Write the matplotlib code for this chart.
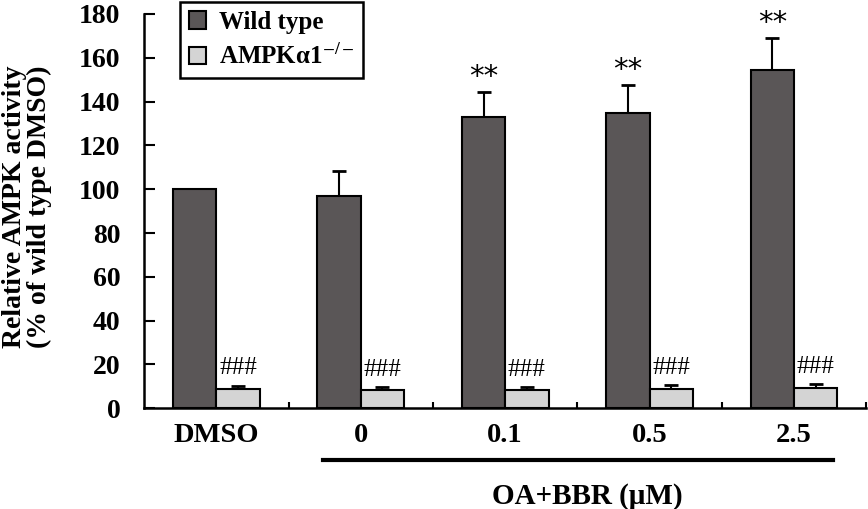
import numpy as np
import matplotlib
matplotlib.use('Agg')
import matplotlib.pyplot as plt
from matplotlib.patches import Patch

plt.rcParams['font.family'] = ['Liberation Serif', 'DejaVu Serif']
plt.rcParams['mathtext.fontset'] = 'stix'

groups = ['DMSO', '0', '0.1', '0.5', '2.5']
wild = [100, 96.9, 133.0, 135.0, 154.3]
wild_err = [0, 11.2, 11.2, 12.5, 14.6]
ko = [8.8, 8.2, 8.5, 9.0, 9.4]
ko_err = [1.4, 1.4, 1.0, 1.5, 1.6]
wild_marks = ['', '', '**', '**', '**']
ko_marks = ['###', '###', '###', '###', '###']

dark = '#5a5657'
light = '#d4d4d4'

fig = plt.figure(figsize=(8.68, 5.09), dpi=100)
ax = fig.add_axes([0.166, 0.198, 0.832, 0.7745])

x = np.arange(len(groups))
w = 0.3
ax.bar(x - w/2, wild, w, color=dark, edgecolor='black', linewidth=1.5, zorder=2)
ax.bar(x + w/2, ko, w, color=light, edgecolor='black', linewidth=1.5, zorder=2)
ax.errorbar(x - w/2, wild, yerr=[np.zeros(len(x)), wild_err], fmt='none',
            ecolor='black', elinewidth=1.5, capsize=5, capthick=2, zorder=1)
ax.errorbar(x + w/2, ko, yerr=[np.zeros(len(x)), ko_err], fmt='none',
            ecolor='black', elinewidth=1.5, capsize=5, capthick=2, zorder=1)

for i in range(len(x)):
    if wild_marks[i]:
        ax.text(x[i] - w/2, wild[i] + wild_err[i] + 0.5, wild_marks[i],
                ha='center', va='bottom', fontsize=21, family='DejaVu Sans')
    ax.text(x[i] + w/2, ko[i] + ko_err[i] + 3.0, ko_marks[i],
            ha='center', va='bottom', fontsize=18)

ax.set_xlim(-0.5, 4.5)
ax.set_ylim(0, 180)
ax.set_yticks(np.arange(0, 181, 20))
ax.set_xticks(x)
ax.set_xticklabels(groups, fontweight='bold', fontsize=20.5)
ax.set_xticks(x + 0.5, minor=True)
ax.tick_params(axis='x', which='major', length=0, pad=11)
ax.tick_params(axis='x', which='minor', direction='in', length=4, width=1.5)
ax.tick_params(axis='y', direction='in', length=8, width=1.5, pad=17, labelsize=20)
for lab in ax.get_yticklabels():
    lab.set_fontweight('bold')

for s in ['top', 'right']:
    ax.spines[s].set_visible(False)
for s in ['left', 'bottom']:
    ax.spines[s].set_linewidth(1.8)

ax.set_ylabel('Relative AMPK activity\n(% of wild type DMSO)', fontsize=20,
              fontweight='bold', linespacing=0.95)
ax.yaxis.set_label_coords(-0.128, 0.51)

trans = ax.get_xaxis_transform()
ax.plot([0.74, 4.27], [-0.132, -0.132], color='black', lw=3,
        transform=trans, clip_on=False)
ax.text(2.57, -0.225, 'OA+BBR (μM)', transform=trans, ha='center', va='center',
        fontsize=21, fontweight='bold')

handles = [Patch(facecolor=dark, edgecolor='black', linewidth=1.5),
           Patch(facecolor=light, edgecolor='black', linewidth=1.5)]
leg = ax.legend(handles, ['Wild type', r'AMPKα1$^{-/-}$'], loc='upper left',
                bbox_to_anchor=(0.05, 1.03), borderaxespad=0, fancybox=False,
                framealpha=1, edgecolor='black', handlelength=0.7,
                handleheight=0.7, handletextpad=0.5, borderpad=0.35,
                labelspacing=0.4, prop={'weight': 'bold', 'size': 18})
leg.get_frame().set_linewidth(1.8)

fig.savefig('out.png', dpi=100)
